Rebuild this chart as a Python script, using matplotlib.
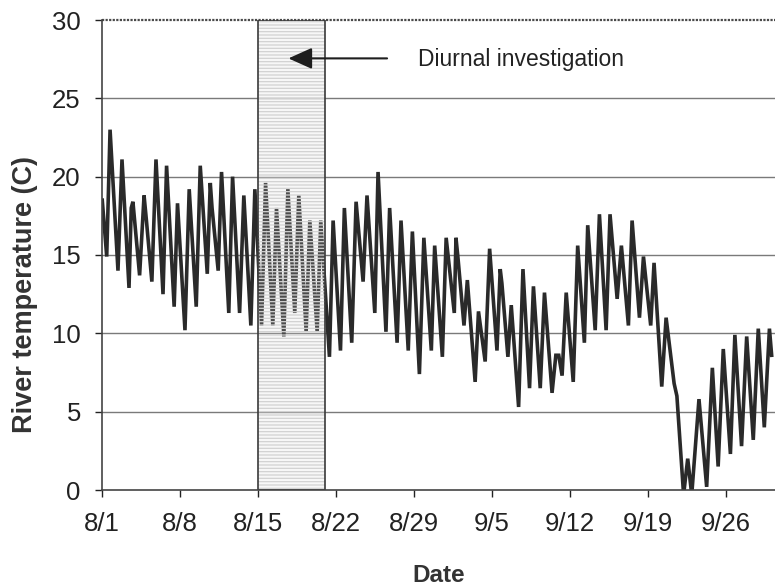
import matplotlib
matplotlib.use("Agg")
import matplotlib.pyplot as plt
from matplotlib.patches import Rectangle

# Days after 8/1 at which the daily highs and lows occur
day = [0.05, 0.45, 0.75, 1.46, 1.82, 2.45, 2.65, 2.8, 3.4, 3.8, 4.0, 4.5, 4.87,
       5.5, 5.82, 6.5, 6.8, 7.47, 7.85, 8.48, 8.84, 9.47, 9.74, 9.9, 10.45,
       10.75, 11.4, 11.74, 12.37, 12.75, 13.38, 13.74, 14.34, 14.7, 15.35,
       15.68, 16.34, 16.7, 17.32, 17.68, 18.34, 18.67, 19.33, 19.65, 20.43,
       20.76, 21.42, 21.77, 22.43, 22.82, 23.45, 23.8, 24.5, 24.79, 25.5,
       25.83, 26.5, 26.85, 27.5, 27.87, 28.5, 28.9, 29.57, 29.87, 30.56,
       30.9, 31.63, 31.78, 31.95, 32.5, 32.8, 33.5, 33.8, 34.4, 34.8, 35.46,
       35.75, 35.9, 36.44, 36.74, 37.4, 37.79, 38.38, 38.73, 39.34, 39.72,
       40.4, 40.74, 41.0, 41.3, 41.67, 42.3, 42.7, 43.3, 43.6, 44.27, 44.65,
       45.25, 45.6, 46.24, 46.62, 47.25, 47.58, 48.24, 48.6, 49.25, 49.55,
       50.24, 50.63, 51.35, 51.6, 52.2, 52.57, 52.93, 53.58, 54.27, 54.78,
       55.3, 55.76, 56.4, 56.8, 57.4, 57.86, 58.45, 58.9, 59.44, 59.9, 60.1]
temp = [18.5, 14.9, 23.0, 14.0, 21.1, 12.9, 18.0, 18.4, 13.7, 18.8, 17.3, 13.3, 21.1,
        12.5, 20.7, 11.7, 18.3, 10.2, 19.2, 11.7, 20.7, 13.8, 19.6, 18.0, 14.0,
        20.3, 11.3, 20.0, 11.3, 18.8, 10.5, 19.2, 10.5, 19.6, 10.5,
        18.0, 9.8, 19.2, 11.3, 18.8, 10.1, 17.2, 10.1, 17.2, 8.5,
        17.2, 8.9, 18.0, 9.4, 18.4, 13.3, 18.8, 11.3, 20.3, 10.1,
        18.0, 9.4, 17.2, 8.9, 16.5, 7.4, 16.1, 8.9, 15.6, 8.5,
        16.1, 11.3, 16.1, 14.9, 10.5, 13.4, 6.9, 11.4, 8.2, 15.4, 8.9,
        14.1, 13.2, 8.5, 11.8, 5.3, 14.1, 6.5, 13.0, 6.5, 12.6,
        6.2, 8.6, 8.6, 7.3, 12.6, 6.9, 15.6, 9.4, 16.9, 10.2, 17.6,
        10.2, 17.6, 12.2, 15.6, 10.5, 17.2, 11.0, 14.9, 10.5, 14.5,
        6.6, 11.0, 6.8, 6.0, -0.3, 2.0, -0.3, 5.8, 0.2, 7.8,
        1.5, 9.0, 2.3, 9.9, 2.8, 9.8, 3.2, 10.3, 4.0, 10.3, 8.6]

tick_days = [0, 7, 14, 21, 28, 35, 42, 49, 56]
tick_labels = ["8/1", "8/8", "8/15", "8/22", "8/29", "9/5", "9/12", "9/19", "9/26"]
y_ticks = [0, 5, 10, 15, 20, 25, 30]

study_start, study_end = 14, 20
note_text = "Diurnal investigation"

plt.rcParams["font.family"] = ["Liberation Sans", "DejaVu Sans"]
plt.rcParams["hatch.linewidth"] = 0.9

fig = plt.figure(figsize=(7.75, 5.88), dpi=100)
ax = fig.add_axes([101.7 / 775, 1 - 490 / 588, 1 - 101.7 / 775, 470 / 588])

ax.set_xlim(0, 60.4)
ax.set_ylim(0, 30)

ax.plot(day, temp, color="#2a2a2a", linewidth=2.6, zorder=2, solid_joinstyle="miter")

for y in y_ticks[1:-1]:
    ax.axhline(y, color="#7a7a7a", linewidth=1.0, zorder=1)
ax.axhline(30, color="#4a4a4a", linewidth=1.6, linestyle=(0, (1.0, 0.6)),
           zorder=1, clip_on=False)

# Shaded study window drawn over the trace
ax.add_patch(Rectangle((study_start, 0), study_end - study_start, 30,
                       facecolor=(0.85, 0.85, 0.85, 0.2), edgecolor="none", zorder=3))
ax.add_patch(Rectangle((study_start, 0), study_end - study_start, 30,
                       facecolor="none", edgecolor="#d2d2d2", hatch="-----",
                       linewidth=0, zorder=3))
ax.add_patch(Rectangle((study_start, 0), study_end - study_start, 30,
                       facecolor="none", edgecolor="#3a3a3a", linewidth=1.2, zorder=4))

ax.annotate("", xy=(16.75, 27.55), xytext=(25.6, 27.55),
            arrowprops=dict(arrowstyle="-|>,head_length=1.45,head_width=0.65",
                            color="#1e1e1e", linewidth=1.5, shrinkA=0, shrinkB=0),
            zorder=5)
ax.text(28.4, 27.5, note_text, fontsize=16.5, color="#222222", va="center", ha="left")

for side in ["top", "right"]:
    ax.spines[side].set_visible(False)
ax.spines["left"].set_color("#444444")
ax.spines["bottom"].set_color("#444444")
ax.spines["left"].set_linewidth(1.2)
ax.spines["bottom"].set_linewidth(1.2)
ax.spines["left"].set_zorder(6)
ax.spines["bottom"].set_zorder(6)

ax.set_xticks(tick_days)
ax.set_xticklabels(tick_labels)
ax.set_yticks(y_ticks)
ax.tick_params(axis="both", labelsize=18.5, colors="#222222", length=5, width=1,
               direction="out")
ax.tick_params(axis="x", pad=11)
ax.tick_params(axis="y", pad=10)

ax.set_xlabel("Date", fontsize=17.5, fontweight="bold", color="#333333", labelpad=20)
ax.set_ylabel("River temperature (C)", fontsize=19.5, fontweight="bold", color="#333333")
ax.yaxis.set_label_coords(-0.095, 0.415)

fig.savefig("out.png", dpi=100)
